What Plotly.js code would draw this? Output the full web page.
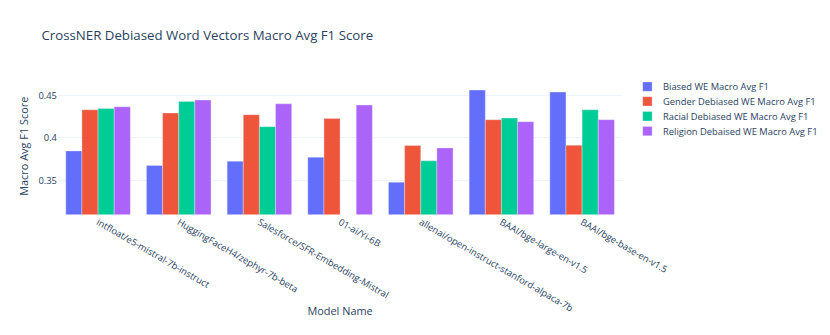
<!DOCTYPE html>
<html>
<head>
<meta charset="utf-8">
<script src="https://cdn.plot.ly/plotly-3.0.1.min.js"></script>
<style>
html,body{margin:0;padding:0;background:#fff;overflow:hidden;}
#wrap{width:830px;height:335px;overflow:hidden;}
#chart{width:1064px;height:429px;transform:scale(0.78);transform-origin:0 0;}
</style>
</head>
<body>
<div id="wrap"><div id="chart"></div></div>
<script>
const models = ["intfloat/e5-mistral-7b-instruct", "HuggingFaceH4/zephyr-7b-beta", "Salesforce/SFR-Embedding-Mistral", "01-ai/Yi-6B", "allenai/open-instruct-stanford-alpaca-7b", "BAAI/bge-large-en-v1.5", "BAAI/bge-base-en-v1.5"];
const biased   = [0.3848, 0.3677, 0.3727, 0.3774, 0.3482, 0.4560, 0.4537];
const gender   = [0.4330, 0.4292, 0.4272, 0.4229, 0.3910, 0.4214, 0.3914];
const racial   = [0.4345, 0.4427, 0.4132, null,   0.3732, 0.4233, 0.4330];
const religion = [0.4365, 0.4443, 0.4400, 0.4385, 0.3883, 0.4190, 0.4214];
const seriesNames = ["Biased WE Macro Avg F1", "Gender Debiased WE Macro Avg F1", "Racial Debiased WE Macro Avg F1", "Religion Debaised WE Macro Avg F1"];
const colors = ["#636efa", "#EF553B", "#00cc96", "#ab63fa"];
const allSeries = [biased, gender, racial, religion];

const traces = allSeries.map((vals, i) => ({
  type: "bar",
  name: seriesNames[i],
  x: models,
  y: vals,
  marker: {color: colors[i], line: {color: "#E5ECF6", width: 0.5}}
}));

const layout = {
  width: 1064, height: 429,
  paper_bgcolor: "white", plot_bgcolor: "white",
  font: {family: "'Open Sans', verdana, arial, sans-serif", size: 12, color: "#2a3f5f"},
  title: {text: "CrossNER Debiased Word Vectors Macro Avg F1 Score", font: {size: 17}, x: 0.05, xanchor: "left", y: 0.895, yref: "container", yanchor: "middle"},
  margin: {l: 74, r: 266, t: 100, b: 154},
  barmode: "group",
  bargap: 0.2,
  xaxis: {
    title: {text: "Model Name", font: {size: 14}},
    tickangle: 30, showgrid: false, zeroline: false, automargin: false,
    ticks: ""
  },
  yaxis: {
    title: {text: "Macro Avg F1 Score", font: {size: 14}},
    range: [0.3103, 0.4702], gridcolor: "#EBF0F8", zeroline: false,
    tickvals: [0.35, 0.4, 0.45], ticktext: ["0.35", "0.4", "0.45"], automargin: false
  },
  legend: {font: {size: 12}, xref: "container", yref: "container", x: 0.7613, xanchor: "left", y: 0.775, yanchor: "top"},
  showlegend: true
};

Plotly.newPlot("chart", traces, layout, {displayModeBar: false, staticPlot: true});
</script>
</body>
</html>
